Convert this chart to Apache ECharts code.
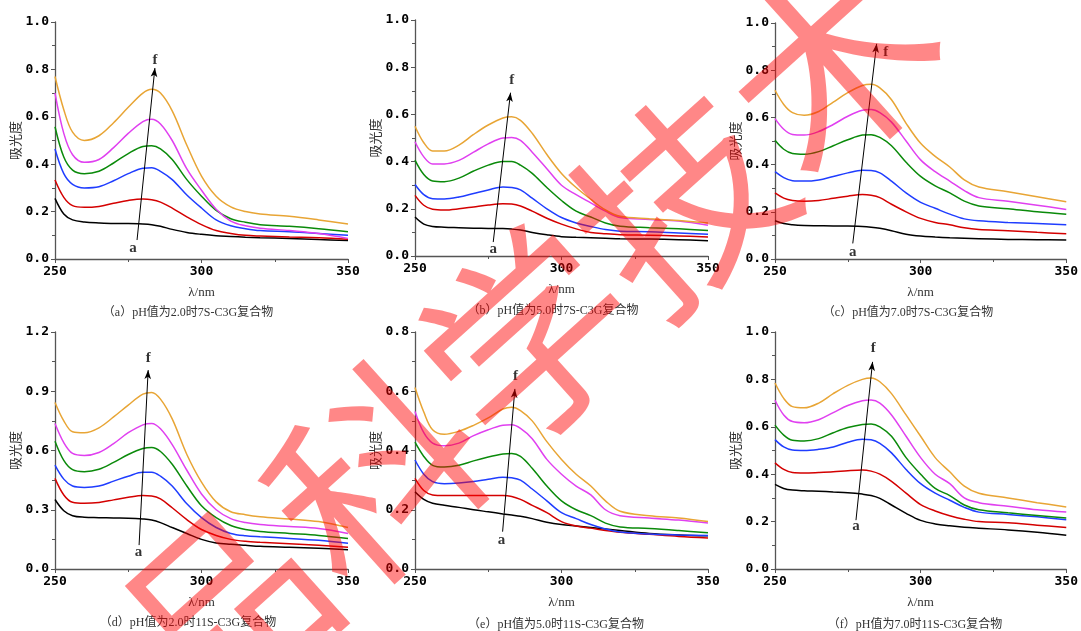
<!DOCTYPE html>
<html>
<head>
<meta charset="utf-8">
<script src="https://cdn.jsdelivr.net/npm/echarts@6/dist/echarts.min.js"></script>
<style>
  html, body { margin: 0; padding: 0; background: #fff; }
  #chart { width: 1081px; height: 631px; }
</style>
</head>
<body>
<div id="chart"></div>
<script>
// wavelength points (nm)
var wl = [250,253,256,260,265,270,275,280,283,286,290,295,300,305,310,315,320,330,340,350];

// curve order a..f : black, red, blue, green, magenta, orange
var panelA = [
  [0.256,0.19,0.165,0.156,0.152,0.15,0.15,0.148,0.145,0.138,0.125,0.112,0.104,0.098,0.095,0.092,0.09,0.087,0.082,0.078],
  [0.333,0.26,0.225,0.218,0.222,0.235,0.247,0.253,0.25,0.24,0.215,0.178,0.145,0.12,0.108,0.10,0.097,0.093,0.09,0.083],
  [0.464,0.36,0.315,0.30,0.305,0.33,0.36,0.383,0.385,0.37,0.335,0.27,0.215,0.165,0.14,0.128,0.12,0.115,0.108,0.10],
  [0.558,0.43,0.375,0.36,0.37,0.405,0.445,0.475,0.478,0.465,0.42,0.335,0.265,0.205,0.17,0.155,0.145,0.138,0.128,0.115],
  [0.70,0.53,0.44,0.408,0.42,0.47,0.53,0.58,0.59,0.57,0.50,0.38,0.29,0.21,0.16,0.14,0.13,0.12,0.108,0.087],
  [0.77,0.63,0.535,0.50,0.52,0.575,0.64,0.70,0.716,0.70,0.625,0.48,0.35,0.265,0.22,0.20,0.19,0.18,0.165,0.148]
];
var panelB = [
  [0.165,0.135,0.125,0.122,0.12,0.118,0.117,0.116,0.114,0.11,0.10,0.09,0.082,0.079,0.077,0.075,0.073,0.072,0.069,0.065],
  [0.257,0.215,0.198,0.195,0.20,0.208,0.216,0.221,0.22,0.212,0.19,0.16,0.135,0.115,0.10,0.094,0.09,0.088,0.085,0.08],
  [0.303,0.26,0.243,0.242,0.25,0.265,0.28,0.292,0.29,0.28,0.245,0.20,0.163,0.14,0.125,0.112,0.105,0.103,0.097,0.092],
  [0.406,0.345,0.318,0.315,0.33,0.36,0.385,0.40,0.40,0.385,0.35,0.29,0.235,0.19,0.165,0.14,0.126,0.12,0.115,0.108],
  [0.484,0.42,0.39,0.39,0.405,0.44,0.475,0.50,0.502,0.49,0.44,0.37,0.30,0.26,0.225,0.19,0.163,0.155,0.148,0.13],
  [0.55,0.48,0.445,0.445,0.47,0.515,0.555,0.585,0.59,0.575,0.52,0.43,0.35,0.29,0.24,0.195,0.168,0.158,0.15,0.14]
];
var panelC = [
  [0.162,0.15,0.145,0.142,0.141,0.14,0.14,0.138,0.135,0.13,0.12,0.105,0.097,0.093,0.09,0.088,0.086,0.083,0.082,0.08],
  [0.28,0.258,0.248,0.245,0.248,0.257,0.266,0.273,0.27,0.26,0.232,0.20,0.172,0.155,0.145,0.132,0.125,0.12,0.113,0.107],
  [0.37,0.345,0.332,0.33,0.335,0.35,0.365,0.376,0.375,0.365,0.33,0.28,0.24,0.215,0.19,0.17,0.162,0.155,0.15,0.145],
  [0.503,0.465,0.447,0.444,0.455,0.48,0.505,0.525,0.527,0.515,0.48,0.41,0.35,0.31,0.28,0.245,0.225,0.213,0.20,0.19],
  [0.595,0.55,0.528,0.525,0.54,0.57,0.605,0.63,0.633,0.62,0.58,0.50,0.42,0.37,0.33,0.29,0.26,0.245,0.228,0.21],
  [0.715,0.655,0.62,0.609,0.625,0.665,0.705,0.735,0.74,0.725,0.675,0.575,0.49,0.435,0.39,0.335,0.305,0.285,0.264,0.243]
];
var panelD = [
  [0.352,0.295,0.27,0.262,0.26,0.258,0.257,0.253,0.248,0.235,0.21,0.18,0.15,0.132,0.125,0.12,0.115,0.11,0.105,0.098],
  [0.459,0.375,0.338,0.333,0.337,0.35,0.363,0.372,0.37,0.355,0.31,0.25,0.20,0.17,0.15,0.14,0.135,0.128,0.12,0.11],
  [0.526,0.455,0.42,0.413,0.42,0.445,0.47,0.49,0.49,0.47,0.42,0.33,0.26,0.21,0.18,0.168,0.163,0.155,0.145,0.13],
  [0.647,0.55,0.503,0.493,0.505,0.54,0.58,0.61,0.615,0.595,0.53,0.42,0.32,0.26,0.22,0.20,0.19,0.18,0.17,0.155],
  [0.737,0.64,0.585,0.575,0.59,0.635,0.69,0.73,0.737,0.71,0.63,0.50,0.38,0.30,0.255,0.235,0.225,0.215,0.205,0.18],
  [0.843,0.75,0.695,0.69,0.715,0.77,0.83,0.885,0.894,0.86,0.76,0.58,0.44,0.34,0.29,0.275,0.265,0.253,0.24,0.21]
];
var panelE = [
  [0.261,0.235,0.222,0.215,0.208,0.20,0.193,0.186,0.182,0.178,0.17,0.158,0.15,0.145,0.14,0.135,0.13,0.12,0.115,0.112],
  [0.306,0.265,0.25,0.248,0.248,0.248,0.248,0.248,0.245,0.235,0.215,0.19,0.16,0.145,0.138,0.13,0.124,0.117,0.11,0.105],
  [0.368,0.32,0.295,0.288,0.29,0.295,0.303,0.31,0.308,0.30,0.27,0.23,0.19,0.17,0.15,0.135,0.125,0.118,0.115,0.113],
  [0.428,0.38,0.35,0.344,0.35,0.365,0.378,0.388,0.39,0.38,0.34,0.28,0.23,0.20,0.18,0.155,0.142,0.137,0.13,0.122],
  [0.532,0.46,0.425,0.416,0.425,0.45,0.47,0.485,0.487,0.475,0.44,0.37,0.32,0.28,0.25,0.20,0.18,0.172,0.165,0.155],
  [0.613,0.53,0.47,0.455,0.465,0.485,0.51,0.54,0.546,0.535,0.50,0.43,0.37,0.32,0.28,0.23,0.195,0.18,0.172,0.16]
];
var panelF = [
  [0.357,0.34,0.333,0.33,0.328,0.325,0.322,0.316,0.31,0.298,0.27,0.235,0.205,0.19,0.182,0.176,0.172,0.165,0.155,0.142],
  [0.448,0.42,0.407,0.405,0.407,0.41,0.415,0.418,0.413,0.40,0.37,0.32,0.272,0.245,0.225,0.21,0.20,0.195,0.185,0.175],
  [0.546,0.515,0.502,0.50,0.505,0.515,0.535,0.547,0.545,0.53,0.49,0.42,0.36,0.32,0.29,0.26,0.24,0.23,0.22,0.208],
  [0.607,0.565,0.543,0.54,0.55,0.575,0.597,0.61,0.612,0.60,0.56,0.47,0.40,0.34,0.31,0.27,0.25,0.237,0.226,0.215],
  [0.712,0.65,0.622,0.617,0.63,0.66,0.69,0.71,0.713,0.70,0.65,0.56,0.47,0.40,0.36,0.30,0.28,0.265,0.25,0.24],
  [0.785,0.72,0.685,0.68,0.70,0.74,0.775,0.80,0.806,0.79,0.74,0.65,0.56,0.47,0.41,0.35,0.32,0.30,0.28,0.262]
];

var captions = [
  '（a）pH值为2.0时7S-C3G复合物',
  '（b）pH值为5.0时7S-C3G复合物',
  '（c）pH值为7.0时7S-C3G复合物',
  '（d）pH值为2.0时11S-C3G复合物',
  '（e）pH值为5.0时11S-C3G复合物',
  '（f）pH值为7.0时11S-C3G复合物'
];
var yMax = [1.0, 1.0, 1.0, 1.2, 0.8, 1.0];
var yStep = [0.2, 0.2, 0.2, 0.3, 0.2, 0.2];
// arrow a -> f  [x1, y1, x2, y2] and label spots
var arrows = [
  [278.0, 0.08, 284.1, 0.806],
  [276.7, 0.059, 282.6, 0.692],
  [276.7, 0.066, 284.9, 0.912],
  [278.7, 0.121, 281.8, 1.007],
  [279.9, 0.126, 284.1, 0.608],
  [277.8, 0.206, 283.5, 0.874]
];
var labelA = [[276.6, 0.046], [276.7, 0.031], [276.7, 0.031], [278.5, 0.084], [279.5, 0.098], [277.8, 0.181]];
var labelF = [[284.1, 0.84], [283.0, 0.745], [288.0, 0.877], [281.8, 1.066], [284.3, 0.65], [283.7, 0.93]];

var panels = [panelA, panelB, panelC, panelD, panelE, panelF];
var colors = ['#000000', '#d40000', '#1f3dff', '#0a8a0a', '#e040f0', '#e8a535'];
var watermark = '品科学技术';

var grids = [
  {left: 55, top: 22, width: 293, height: 237},
  {left: 415, top: 20, width: 293, height: 236},
  {left: 775, top: 23, width: 293, height: 236},
  {left: 55, top: 332, width: 293, height: 237},
  {left: 415, top: 332, width: 293, height: 237},
  {left: 775, top: 332, width: 293, height: 237}
];
var capPos = [[188, 313], [553, 311], [908, 313], [188, 623], [556, 625], [915, 625]];

var axisGray = '#555';
var xAxes = [], yAxes = [], series = [], graphics = [];

grids.forEach(function (g, i) {
  xAxes.push({
    type: 'value', gridIndex: i, min: 250, max: 350, interval: 50,
    name: 'λ/nm', nameLocation: 'middle', nameGap: 27,
    nameTextStyle: {fontFamily: 'Liberation Serif', fontSize: 13, color: '#333'},
    axisLine: {lineStyle: {color: axisGray, width: 1.3}},
    axisTick: {length: 4, lineStyle: {color: axisGray}},
    minorTick: {show: true, splitNumber: 2, length: 3, lineStyle: {color: axisGray}},
    splitLine: {show: false},
    axisLabel: {fontFamily: 'DejaVu Sans Mono', fontWeight: 'bold', fontSize: 13, color: '#000', margin: 6}
  });
  yAxes.push({
    type: 'value', gridIndex: i, min: 0, max: yMax[i], interval: yStep[i],
    name: '吸光度', nameLocation: 'middle', nameGap: 33,
    nameTextStyle: {fontFamily: 'Noto Sans CJK SC', fontSize: 13, color: '#333'},
    axisLine: {show: true, lineStyle: {color: axisGray, width: 1.3}},
    axisTick: {show: true, length: 4, lineStyle: {color: axisGray}},
    minorTick: {show: true, splitNumber: 2, length: 3, lineStyle: {color: axisGray}},
    splitLine: {show: false},
    axisLabel: {
      fontFamily: 'DejaVu Sans Mono', fontWeight: 'bold', fontSize: 13, color: '#000', margin: 6,
      formatter: function (v) { return v.toFixed(1); }
    }
  });

  panels[i].forEach(function (vals, k) {
    series.push({
      type: 'line', xAxisIndex: i, yAxisIndex: i,
      data: wl.map(function (w, j) { return [w, vals[j]]; }),
      smooth: 0.35, showSymbol: false, symbol: 'none',
      lineStyle: {color: colors[k], width: 1.5},
      itemStyle: {color: colors[k]},
      z: 3, animation: false
    });
  });

  // a -> f arrow
  var ar = arrows[i];
  series.push({
    type: 'line', xAxisIndex: i, yAxisIndex: i, data: [], silent: true, animation: false,
    markLine: {
      silent: true, animation: false,
      symbol: ['none', 'arrow'],
      itemStyle: {color: '#000'},
      lineStyle: {color: '#000', width: 1, type: 'solid'},
      label: {show: false},
      emphasis: {disabled: true},
      data: [[
        {coord: [ar[0], ar[1]], symbol: 'none'},
        {coord: [ar[2], ar[3]], symbol: 'arrow', symbolSize: [5, 9]}
      ]]
    }
  });

  series.push({
    type: 'scatter', xAxisIndex: i, yAxisIndex: i,
    symbolSize: 1, itemStyle: {color: 'rgba(0,0,0,0)'}, silent: true, animation: false,
    data: [[labelA[i][0], labelA[i][1], 'a'], [labelF[i][0], labelF[i][1], 'f']],
    label: {
      show: true, position: 'inside',
      fontFamily: 'Liberation Serif', fontWeight: 'bold', fontSize: 15, color: '#000',
      formatter: function (p) { return p.value[2]; }
    }
  });

  graphics.push({
    type: 'text', x: capPos[i][0], y: capPos[i][1], silent: true,
    style: {
      text: captions[i], fill: '#333', align: 'center', verticalAlign: 'middle',
      font: '12px "Liberation Serif", "Noto Sans CJK SC"'
    }
  });
});

// pink diagonal watermark across the figure
graphics.push({
  type: 'text', x: 528, y: 338, rotation: 42 * Math.PI / 180, silent: true, z: 100,
  style: {
    text: watermark, fill: 'rgba(255,0,0,0.47)', align: 'center', verticalAlign: 'middle',
    font: 'normal 205px "Noto Sans CJK SC"'
  }
});

var chart = echarts.init(document.getElementById('chart'));
chart.setOption({
  backgroundColor: '#fff',
  animation: false,
  grid: grids,
  xAxis: xAxes,
  yAxis: yAxes,
  series: series,
  graphic: graphics
});
</script>
</body>
</html>
